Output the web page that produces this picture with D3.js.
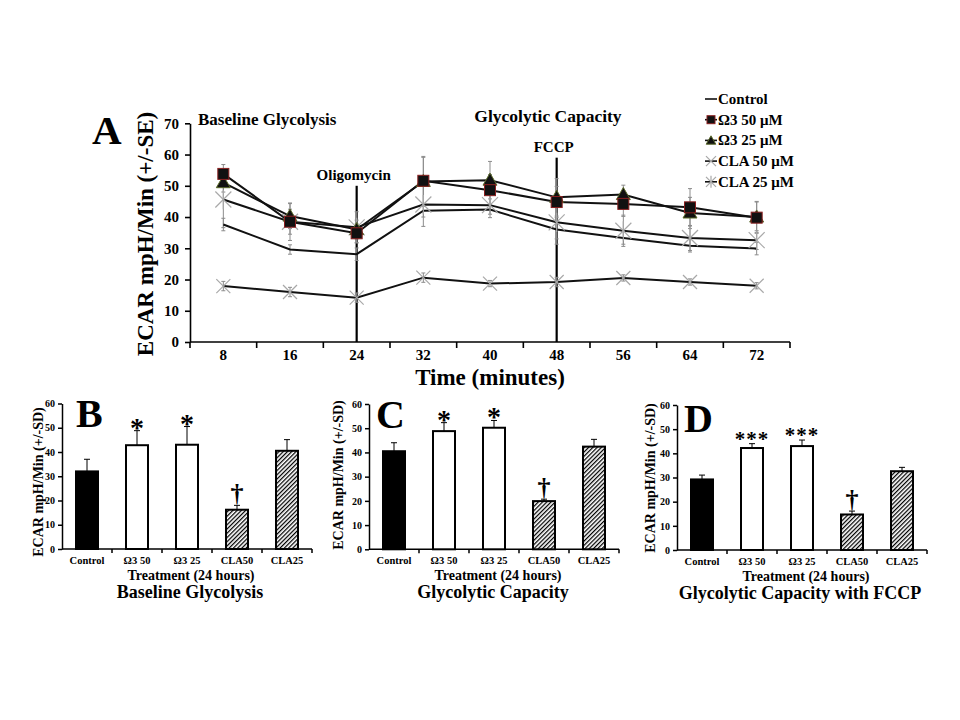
<!DOCTYPE html>
<html><head><meta charset="utf-8">
<script src="https://cdn.jsdelivr.net/npm/d3@7"></script>
<style>
body{margin:0;background:#fff}
svg{display:block}
text{font-family:"Liberation Serif","Times New Roman",serif;font-weight:bold;fill:#000}
</style>
</head><body>
<svg id="c" width="960" height="720"></svg>
<script>
// ---------- Panel A data ----------
const times = [8,16,24,32,40,48,56,64,72];
const seriesNames = ["Control","Ω3 50 μM","Ω3 25 μM","CLA 50 μM","CLA 25 μM"];
const controlVals = [37.6,29.6,28.1,42.0,42.4,36.0,33.3,30.8,29.9];
const controlSE   = [2,1.5,2,2,1.5,3,2,2,2];
const o350Vals = [53.8,38.5,34.8,51.6,48.6,44.8,44.2,43.1,39.8];
const o350SE   = [3,4,3,7.5,5,5,4,6,5];
const o325Vals = [51.0,40.3,36.0,51.4,51.8,46.3,47.2,41.3,40.0];
const o325SE   = [3,4,3,8,6,6,3,5,5];
const cla50Vals = [17.9,16.0,14.2,20.6,18.7,19.2,20.5,19.2,18.0];
const cla50SE   = [1.5,1.5,1.5,1.5,1,1.5,1,1,1];
const cla25Vals = [45.6,38.5,36.7,44.0,43.8,38.3,35.6,33.3,32.6];
const cla25SE   = [9,6,5,7,4,7,5,4,3];
const yTicksA = [0,10,20,30,40,50,60,70];
const eventTimes = [24,48];
const eventTops = [50,59];
const eventLabels = ["Oligomycin","FCCP"];

// ---------- Bar panels data ----------
const barCats = ["Control","Ω3 50","Ω3 25","CLA50","CLA25"];
const yTicksBar = [0,10,20,30,40,50,60];
const baselineMean = [32.0,42.8,43.0,16.2,40.5];
const baselineSD   = [5.0,6.0,7.5,1.8,4.6];
const baselineSig  = ["","*","*","†",""];
const capacityMean = [40.5,48.8,50.2,19.9,42.4];
const capacitySD   = [3.5,3.5,3.0,0.8,3.0];
const capacitySig  = ["","*","*","†",""];
const fccpMean = [29.2,42.2,43.0,14.7,32.6];
const fccpSD   = [1.8,1.8,2.5,1.4,1.6];
const fccpSig  = ["","***","***","†",""];

const svg = d3.select("#c");
const defs = svg.append("defs");
const pat = defs.append("pattern").attr("id","hatch").attr("patternUnits","userSpaceOnUse")
  .attr("width",3).attr("height",3).attr("patternTransform","rotate(45)");
pat.append("rect").attr("width",3).attr("height",3).attr("fill","#fff");
pat.append("line").attr("x1",0.6).attr("y1",0).attr("x2",0.6).attr("y2",3).attr("stroke","#000").attr("stroke-width",1.3);

// ================= Panel A =================
const xA = d3.scaleBand().domain(times).range([190,790]);
const yA = d3.scaleLinear().domain([0,70]).range([342,123.3]);
const cxA = t => xA(t) + xA.bandwidth()/2;
const gA = svg.append("g");

const yAxA = gA.append("g").attr("transform","translate(190,0)")
  .call(d3.axisLeft(yA).tickValues(yTicksA).tickSize(5).tickPadding(6).tickSizeOuter(0));
yAxA.selectAll("text").style("font-size","15px");
yAxA.selectAll("line,path").attr("stroke","#000").attr("stroke-width",1.6);

const xAxA = gA.append("g").attr("transform",`translate(0,${yA(0)})`);
xAxA.append("line").attr("x1",xA.range()[0]).attr("x2",xA.range()[1]).attr("stroke","#000").attr("stroke-width",1.6);
const bounds = times.map(t=>xA(t)).concat([xA.range()[1]]);
xAxA.selectAll("line.tk").data(bounds).join("line").attr("class","tk")
  .attr("x1",d=>d).attr("x2",d=>d).attr("y1",0).attr("y2",6).attr("stroke","#000").attr("stroke-width",1.6);
xAxA.selectAll("text").data(times).join("text")
  .attr("x",d=>cxA(d)).attr("y",17.5).attr("text-anchor","middle").style("font-size","15px").text(d=>d);

gA.append("text").attr("x",490).attr("y",385).attr("text-anchor","middle").style("font-size","23px").text("Time (minutes)");
gA.append("text").attr("transform","translate(153,234) rotate(-90)").attr("text-anchor","middle")
  .style("font-size","23px").text("ECAR mpH/Min (+/-SE)");
gA.append("text").attr("x",92).attr("y",144).style("font-size","41px").text("A");
gA.append("text").attr("x",198).attr("y",125).style("font-size","17px").text("Baseline Glycolysis");
gA.append("text").attr("x",548).attr("y",122).attr("text-anchor","middle").style("font-size","17.5px").text("Glycolytic Capacity");

eventTimes.forEach((t,i)=>{
  gA.append("line").attr("x1",cxA(t)).attr("x2",cxA(t)).attr("y1",yA(eventTops[i])).attr("y2",yA(0))
    .attr("stroke","#000").attr("stroke-width",2.2);
  gA.append("text").attr("x",cxA(t)-3).attr("y",yA(eventTops[i])-6).attr("text-anchor","middle")
    .style("font-size","15px").text(eventLabels[i]);
});

const series = [
  {vals:controlVals, se:controlSE, m:"none"},
  {vals:o350Vals, se:o350SE, m:"square"},
  {vals:o325Vals, se:o325SE, m:"triangle"},
  {vals:cla50Vals, se:cla50SE, m:"x"},
  {vals:cla25Vals, se:cla25SE, m:"star"}
];

function marker(g, type, x, y, s){
  if(type==="square"){
    g.append("rect").attr("x",x-s/2).attr("y",y-s/2).attr("width",s).attr("height",s)
      .attr("fill","#111").attr("stroke","#8a2020").attr("stroke-width",1);
  } else if(type==="triangle"){
    g.append("path").attr("transform",`translate(${x},${y+1})`)
      .attr("d",d3.symbol(d3.symbolTriangle, s*s*0.5)())
      .attr("fill","#111").attr("stroke","#5a6a2a").attr("stroke-width",1);
  } else if(type==="x" || type==="star"){
    const h=s/2;
    const c = "#a8a8a8";
    g.append("line").attr("x1",x-h).attr("y1",y-h).attr("x2",x+h).attr("y2",y+h).attr("stroke",c).attr("stroke-width",1.2);
    g.append("line").attr("x1",x-h).attr("y1",y+h).attr("x2",x+h).attr("y2",y-h).attr("stroke",c).attr("stroke-width",1.2);
    if(type==="star") g.append("line").attr("x1",x).attr("y1",y-h*1.2).attr("x2",x).attr("y2",y+h*1.2).attr("stroke",c).attr("stroke-width",1.2);
  }
}

series.forEach(s=>{
  times.forEach((t,i)=>{
    const x=cxA(t), y1=yA(s.vals[i]+s.se[i]), y2=yA(s.vals[i]-s.se[i]);
    gA.append("line").attr("x1",x).attr("x2",x).attr("y1",y1).attr("y2",y2).attr("stroke","#8c8c8c").attr("stroke-width",1);
    [y1,y2].forEach(yy=>gA.append("line").attr("x1",x-2).attr("x2",x+2).attr("y1",yy).attr("y2",yy).attr("stroke","#8c8c8c").attr("stroke-width",1));
  });
});
const lineGen = d3.line().x((d,i)=>cxA(times[i])).y(d=>yA(d));
series.forEach(s=>{
  gA.append("path").attr("d",lineGen(s.vals)).attr("fill","none").attr("stroke","#111").attr("stroke-width",2);
});
series.slice().reverse().forEach(s=>{
  times.forEach((t,i)=>{
    const sz = s.m==="square"?11: s.m==="triangle"?13: s.m==="x"?14:16;
    marker(gA, s.m, cxA(t), yA(s.vals[i]), sz);
  });
});

const legMarks = ["none","square","triangle","x","star"];
seriesNames.forEach((n,i)=>{
  const y = 99 + i*20.7;
  gA.append("line").attr("x1",705).attr("x2",717).attr("y1",y).attr("y2",y).attr("stroke","#111").attr("stroke-width",1.6);
  const sz = legMarks[i]==="square"?8: legMarks[i]==="triangle"?9: 10;
  marker(gA, legMarks[i], 711, y, sz);
  gA.append("text").attr("x",718).attr("y",y).attr("dominant-baseline","central").style("font-size","15px").text(n);
});

// ================= Bar panels =================
function barPanel(cfg){
  const g = svg.append("g");
  const x0 = cfg.x0, W = 250;
  const xb = d3.scaleBand().domain(barCats).range([x0, x0+W]).paddingInner(0.56).paddingOuter(0.28);
  const y = d3.scaleLinear().domain([0,60]).range([cfg.y0, cfg.y60]);
  const ya = g.append("g").attr("transform",`translate(${x0},0)`)
    .call(d3.axisLeft(y).tickValues(yTicksBar).tickSize(4).tickPadding(3).tickSizeOuter(0));
  ya.selectAll("text").style("font-size","10px");
  ya.selectAll("line,path").attr("stroke","#000").attr("stroke-width",1.5);
  g.append("line").attr("x1",x0).attr("x2",x0+W).attr("y1",y(0)).attr("y2",y(0)).attr("stroke","#000").attr("stroke-width",1.5);
  const step = xb.step();
  barCats.forEach(c=>{
    const b = xb(c)+xb.bandwidth()/2 - step/2;
    g.append("line").attr("x1",b+step).attr("x2",b+step).attr("y1",y(0)).attr("y2",y(0)+4).attr("stroke","#000").attr("stroke-width",1.5);
  });
  g.selectAll("text.cat").data(barCats).join("text").attr("class","cat")
    .attr("x",d=>xb(d)+xb.bandwidth()/2).attr("y",y(0)+15).attr("text-anchor","middle")
    .style("font-size","10.5px").text(d=>d);
  const fills = ["#000","#fff","#fff","url(#hatch)","url(#hatch)"];
  barCats.forEach((c,i)=>{
    const bx = xb(c), bw = xb.bandwidth(), cx = bx+bw/2;
    const top = y(cfg.mean[i]), et = y(cfg.mean[i]+cfg.sd[i]);
    g.append("line").attr("x1",cx).attr("x2",cx).attr("y1",top).attr("y2",et).attr("stroke","#000").attr("stroke-width",1);
    g.append("line").attr("x1",cx-3).attr("x2",cx+3).attr("y1",et).attr("y2",et).attr("stroke","#000").attr("stroke-width",1);
    g.append("rect").attr("x",bx).attr("y",top).attr("width",bw).attr("height",y(0)-top)
      .attr("fill",fills[i]).attr("stroke","#000").attr("stroke-width",2);
    const s = cfg.sig[i];
    if(s==="†"){
      g.append("text").attr("x",cx).attr("y",et-3).attr("text-anchor","middle").style("font-size","26px").text(s);
    } else if(s.length===1){
      g.append("text").attr("x",cx).attr("y",et+6).attr("text-anchor","middle").style("font-size","28px").text(s);
    } else if(s){
      g.append("text").attr("x",cx).attr("y",et+2).attr("text-anchor","middle")
        .style("font-size","21px").style("letter-spacing","1px").text(s);
    }
  });
  g.append("text").attr("transform",`translate(${cfg.ylx},${cfg.yly}) rotate(-90)`).attr("text-anchor","middle")
    .style("font-size","14px").text("ECAR mpH/Min (+/-SD)");
  g.append("text").attr("x",x0+W/2+4).attr("y",y(0)+31).attr("text-anchor","middle").style("font-size","14px").text("Treatment (24 hours)");
  g.append("text").attr("x",cfg.tx).attr("y",y(0)+49).attr("text-anchor","middle").style("font-size","18px").text(cfg.title);
  g.append("text").attr("x",cfg.lx).attr("y",cfg.ly).style("font-size","40px").text(cfg.letter);
}

barPanel({x0:62, y0:549, y60:403.5, mean:baselineMean, sd:baselineSD, sig:baselineSig,
  ylx:43, yly:482, tx:190, title:"Baseline Glycolysis", letter:"B", lx:76, ly:427});
barPanel({x0:369, y0:549.3, y60:404, mean:capacityMean, sd:capacitySD, sig:capacitySig,
  ylx:343, yly:475, tx:493, title:"Glycolytic Capacity", letter:"C", lx:376, ly:428});
barPanel({x0:677, y0:550, y60:405, mean:fccpMean, sd:fccpSD, sig:fccpSig,
  ylx:655, yly:478, tx:800, title:"Glycolytic Capacity with FCCP", letter:"D", lx:684, ly:432});
</script>
</body></html>
